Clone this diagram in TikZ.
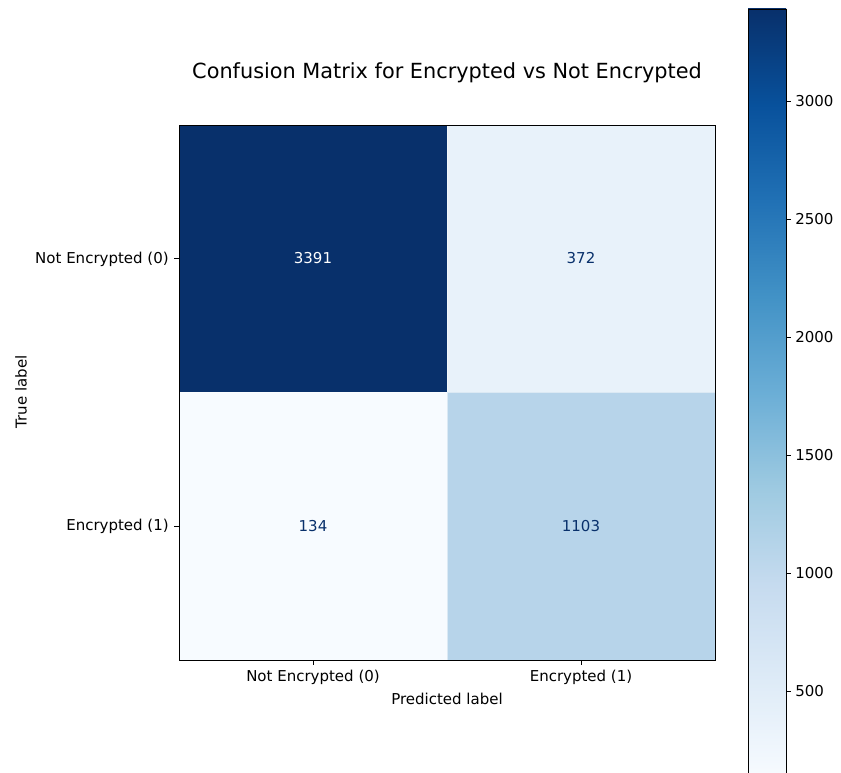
\documentclass[tikz,border=0pt]{standalone}
\usepackage{fontspec}
\setmainfont{DejaVu Sans}
\definecolor{b0}{HTML}{F7FBFF}
\definecolor{b1}{HTML}{DEEBF7}
\definecolor{b2}{HTML}{C6DBEF}
\definecolor{b3}{HTML}{9ECAE1}
\definecolor{b4}{HTML}{6BAED6}
\definecolor{b5}{HTML}{4292C6}
\definecolor{b6}{HTML}{2171B5}
\definecolor{b7}{HTML}{08519C}
\definecolor{b8}{HTML}{08306B}
\definecolor{c372}{RGB}{232,242,250}
\definecolor{c1103}{RGB}{183,212,234}
\pgfdeclareverticalshading{bluesbar}{100bp}{color(0bp)=(b0); color(25bp)=(b0); color(31.25bp)=(b1); color(37.5bp)=(b2); color(43.75bp)=(b3); color(50bp)=(b4); color(56.25bp)=(b5); color(62.5bp)=(b6); color(68.75bp)=(b7); color(75bp)=(b8); color(100bp)=(b8)}
\tikzset{
  lbl/.style={font=\fontsize{10.8}{13}\selectfont, inner sep=0pt, text=black},
  val/.style={font=\fontsize{10.8}{13}\selectfont, inner sep=0pt},
  tick/.style={line width=0.7pt, black},
  frame/.style={line width=0.7pt, black},
}
\begin{document}
\begin{tikzpicture}[x=0.72pt,y=-0.72pt]
\useasboundingbox (0,0) rectangle (841,773);
\clip (0,0) rectangle (841,773);
% cells
\fill[b8] (179,125) rectangle (447,392);
\fill[c372] (447,125) rectangle (715,392);
\fill[b0] (179,392) rectangle (447,660);
\fill[c1103] (447,392) rectangle (715,660);
\draw[white, opacity=0.5, line width=0.4pt] (447,125) -- (447,660) (179,392) -- (715,392);
\draw[frame] (179,125) rectangle (715,660);
% values
\node[val, text=white] (v00) at (313,258.5) {3391};
\node[val, text=b8] (v01) at (581,258.5) {372};
\node[val, text=b8] (v10) at (313,526) {134};
\node[val, text=b8] (v11) at (581,526) {1103};
% y ticks
\coordinate (yt0) at (179,258.5);
\coordinate (yt1) at (179,526);
\draw[tick] (yt0) -- ++(-4.9,0);
\draw[tick] (yt1) -- ++(-4.9,0);
\node[lbl, anchor=east] (yl0) at (169,259.5) {Not Encrypted (0)};
\node[lbl, anchor=east] (yl1) at (169,526.5) {Encrypted (1)};
% x ticks
\coordinate (xt0) at (313,660);
\coordinate (xt1) at (581,660);
\draw[tick] (xt0) -- ++(0,4.9);
\draw[tick] (xt1) -- ++(0,4.9);
\node[lbl] (xl0) at (313,677.5) {Not Encrypted (0)};
\node[lbl] (xl1) at (581,677.5) {Encrypted (1)};
% axis labels
\node[lbl] (xlab) at (447,698.5) {Predicted label};
\node[lbl, rotate=90] (ylab) at (21,392) {True label};
% title
\node[lbl, font=\fontsize{15}{18}\selectfont] (title) at (447,73) {Confusion Matrix for Encrypted vs Not Encrypted};
% colorbar
\shade[shading=bluesbar] (748,9) rectangle (786,777.4);
\draw[frame] (748,777.4) -- (748,9) -- (786,9) -- (786,777.4);
\foreach \v in {500,1000,1500,2000,2500,3000}{
  \pgfmathsetmacro{\yy}{777.4-(\v-134)/3257*768.4}
  \draw[tick] (786,\yy) -- ++(4.9,0);
  \node[lbl, anchor=west] (cb\v) at (795,\yy) {\v};
}
\end{tikzpicture}
\end{document}
